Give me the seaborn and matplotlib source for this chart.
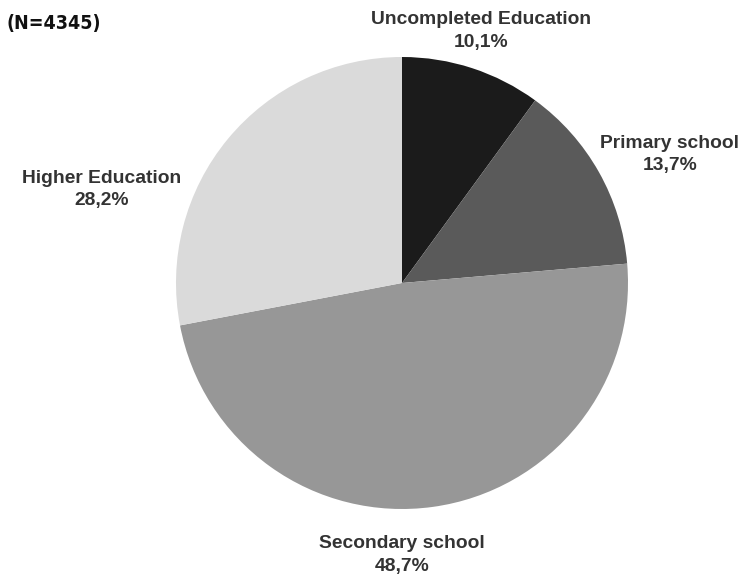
import matplotlib
matplotlib.use("Agg")
import matplotlib.pyplot as plt
import seaborn as sns

# Education level of respondents
categories = ["Uncompleted Education", "Primary school", "Secondary school", "Higher Education"]
shares = [10.1, 13.7, 48.7, 28.2]
share_labels = ["10,1%", "13,7%", "48,7%", "28,2%"]
sample_note = "(N=4345)"

colors = ["#1b1b1b", "#5a5a5a", "#979797", "#dadada"]

sns.set_theme(style="white")
plt.rcParams["font.family"] = ["Liberation Sans", "DejaVu Sans"]

W, H = 754, 580
fig = plt.figure(figsize=(W / 100, H / 100), dpi=100)
fig.patch.set_facecolor("white")

cx, cy, r = 402, 283, 226
ax = fig.add_axes([(cx - r) / W, (H - cy - r) / H, 2 * r / W, 2 * r / H])
ax.pie(shares, colors=colors, startangle=90, counterclock=False, radius=1.0,
       wedgeprops=dict(linewidth=0, antialiased=True))
ax.set_xlim(-1, 1)
ax.set_ylim(-1, 1)
ax.set_aspect("equal")
ax.axis("off")

# label anchor points (pixel coordinates, from top-left)
label_pos = [(481, 20), (670, 143), (402, 544), (102, 178)]
for name, lab, (px, py) in zip(categories, share_labels, label_pos):
    fig.text(px / W, 1 - py / H, name, ha="center", va="center",
             fontsize=13.9, fontweight="bold", color="#333333")
    fig.text(px / W, 1 - (py + 22) / H, lab, ha="center", va="center",
             fontsize=13.9, fontweight="bold", color="#333333")

fig.text(6 / W, 1 - 24 / H, sample_note, ha="left", va="center",
         fontsize=14, fontweight="bold", color="#111111",
         family=["DejaVu Sans"], fontstretch="condensed")

fig.savefig("out.png", dpi=100, facecolor="white")
